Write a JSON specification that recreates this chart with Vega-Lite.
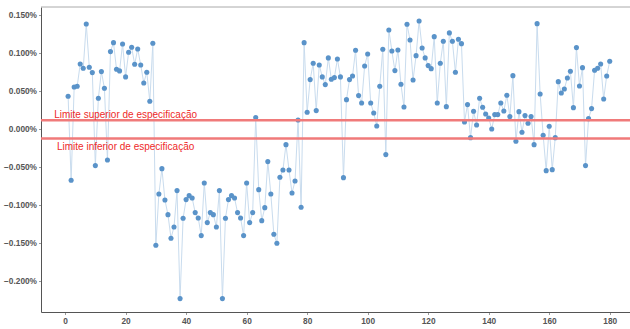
{
  "$schema": "https://vega.github.io/schema/vega-lite/v6.json",
  "width": 589,
  "height": 305,
  "autosize": {"type": "none"},
  "padding": {"left": 41, "top": 7, "right": 0, "bottom": 17},
  "background": "white",
  "config": {
    "view": {"stroke": null},
    "axis": {"grid": false, "labelFont": "Liberation Sans", "labelFontSize": 8.3, "labelFontWeight": "bold", "labelColor": "#555555", "domainColor": "#555555", "tickColor": "#999999", "tickSize": 2.5, "labelPadding": 2, "title": null}
  },
  "datasets": {
    "series": [
      {"i":1,"v":0.000434},{"i":2,"v":-0.000671},{"i":3,"v":0.000557},{"i":4,"v":0.000566},{"i":5,"v":0.000860},
      {"i":6,"v":0.000803},{"i":7,"v":0.001386},{"i":8,"v":0.000816},{"i":9,"v":0.000746},{"i":10,"v":-0.000478},
      {"i":11,"v":0.000408},{"i":12,"v":0.000759},{"i":13,"v":0.000539},{"i":14,"v":-0.000404},{"i":15,"v":0.001022},
      {"i":16,"v":0.001140},{"i":17,"v":0.000789},{"i":18,"v":0.000768},{"i":19,"v":0.001123},{"i":20,"v":0.000689},
      {"i":21,"v":0.001013},{"i":22,"v":0.001079},{"i":23,"v":0.000855},{"i":24,"v":0.001057},{"i":25,"v":0.000846},
      {"i":26,"v":0.000610},{"i":27,"v":0.000750},{"i":28,"v":0.000368},{"i":29,"v":0.001132},{"i":30,"v":-0.001526},
      {"i":31,"v":-0.000851},{"i":32,"v":-0.000518},{"i":33,"v":-0.000930},{"i":34,"v":-0.001123},{"i":35,"v":-0.001434},
      {"i":36,"v":-0.001285},{"i":37,"v":-0.000807},{"i":38,"v":-0.002228},{"i":39,"v":-0.001171},{"i":40,"v":-0.000925},
      {"i":41,"v":-0.000873},{"i":42,"v":-0.000904},{"i":43,"v":-0.001096},{"i":44,"v":-0.001167},{"i":45,"v":-0.001399},
      {"i":46,"v":-0.000706},{"i":47,"v":-0.001228},{"i":48,"v":-0.001096},{"i":49,"v":-0.001123},{"i":50,"v":-0.001285},
      {"i":51,"v":-0.000807},{"i":52,"v":-0.002228},{"i":53,"v":-0.001171},{"i":54,"v":-0.000925},{"i":55,"v":-0.000873},
      {"i":56,"v":-0.000904},{"i":57,"v":-0.001096},{"i":58,"v":-0.001167},{"i":59,"v":-0.001399},{"i":60,"v":-0.000706},
      {"i":61,"v":-0.001228},{"i":62,"v":-0.001096},{"i":63,"v":0.000154},{"i":64,"v":-0.000794},{"i":65,"v":-0.001202},
      {"i":66,"v":-0.001031},{"i":67,"v":-0.000425},{"i":68,"v":-0.000851},{"i":69,"v":-0.001382},{"i":70,"v":-0.001500},
      {"i":71,"v":-0.000632},{"i":72,"v":-0.000535},{"i":73,"v":-0.000202},{"i":74,"v":-0.000535},{"i":75,"v":-0.000838},
      {"i":76,"v":-0.000680},{"i":77,"v":0.000123},{"i":78,"v":-0.001026},{"i":79,"v":0.001140},{"i":80,"v":0.000224},
      {"i":81,"v":0.000654},{"i":82,"v":0.000868},{"i":83,"v":0.000246},{"i":84,"v":0.000846},{"i":85,"v":0.000689},
      {"i":86,"v":0.000588},{"i":87,"v":0.000939},{"i":88,"v":0.000658},{"i":89,"v":0.000680},{"i":90,"v":0.000925},
      {"i":91,"v":0.000689},{"i":92,"v":-0.000636},{"i":93,"v":0.000390},{"i":94,"v":0.000654},{"i":95,"v":0.000702},
      {"i":96,"v":0.001039},{"i":97,"v":0.000443},{"i":98,"v":0.000346},{"i":99,"v":0.000833},{"i":100,"v":0.000991},
      {"i":101,"v":0.000346},{"i":102,"v":0.000215},{"i":103,"v":0.000044},{"i":104,"v":0.000566},{"i":105,"v":0.001053},
      {"i":106,"v":-0.000333},{"i":107,"v":0.001307},{"i":108,"v":0.001031},{"i":109,"v":0.000772},{"i":110,"v":0.001044},
      {"i":111,"v":0.000592},{"i":112,"v":0.000294},{"i":113,"v":0.001382},{"i":114,"v":0.001175},{"i":115,"v":0.000649},
      {"i":116,"v":0.000969},{"i":117,"v":0.001425},{"i":118,"v":0.001070},{"i":119,"v":0.000939},{"i":120,"v":0.000838},
      {"i":121,"v":0.000798},{"i":122,"v":0.001219},{"i":123,"v":0.000346},{"i":124,"v":0.000868},{"i":125,"v":0.001158},
      {"i":126,"v":0.000298},{"i":127,"v":0.001268},{"i":128,"v":0.001158},{"i":129,"v":0.000750},{"i":130,"v":0.001184},
      {"i":131,"v":0.001127},{"i":132,"v":0.000096},{"i":133,"v":0.000325},{"i":134,"v":-0.000110},{"i":135,"v":0.000237},
      {"i":136,"v":0.000057},{"i":137,"v":0.000408},{"i":138,"v":0.000289},{"i":139,"v":0.000202},{"i":140,"v":0.000149},
      {"i":141,"v":0.000004},{"i":142,"v":0.000193},{"i":143,"v":0.000193},{"i":144,"v":0.000346},{"i":145,"v":0.000241},
      {"i":146,"v":0.000447},{"i":147,"v":0.000167},{"i":148,"v":0.000706},{"i":149,"v":-0.000158},{"i":150,"v":0.000232},
      {"i":151,"v":-0.000039},{"i":152,"v":0.000180},{"i":153,"v":0.000079},{"i":154,"v":0.000167},{"i":155,"v":-0.000202},
      {"i":156,"v":0.001390},{"i":157,"v":0.000465},{"i":158,"v":-0.000079},{"i":159,"v":-0.000544},{"i":160,"v":0.000039},
      {"i":161,"v":-0.000531},{"i":162,"v":-0.000110},{"i":163,"v":0.000627},{"i":164,"v":0.000478},{"i":165,"v":0.000531},
      {"i":166,"v":0.000675},{"i":167,"v":0.000763},{"i":168,"v":0.000285},{"i":169,"v":0.001075},{"i":170,"v":0.000570},
      {"i":171,"v":0.000811},{"i":172,"v":-0.000478},{"i":173,"v":0.000140},{"i":174,"v":0.000272},{"i":175,"v":0.000776},
      {"i":176,"v":0.000803},{"i":177,"v":0.000860},{"i":178,"v":0.000399},{"i":179,"v":0.000702},{"i":180,"v":0.000895}
    ],
    "limits": [
      {"lim": 0.00012, "label": "Limite superior de especificação", "lx": 20, "pos": "upper"},
      {"lim": -0.00012, "label": "Limite inferior de especificação", "lx": 20, "pos": "lower"}
    ]
  },
  "layer": [
    {
      "data": {"name": "series"},
      "mark": {"type": "line", "color": "#c9dcee", "strokeWidth": 1},
      "encoding": {
        "x": {"field": "i", "type": "quantitative", "scale": {"domain": [-7.96, 186.7], "nice": false, "zero": false}, "axis": {"values": [0, 20, 40, 60, 80, 100, 120, 140, 160, 180], "format": "d"}},
        "y": {"field": "v", "type": "quantitative", "scale": {"domain": [-0.002404, 0.001609], "nice": false, "zero": false}, "axis": {"values": [-0.002, -0.0015, -0.001, -0.0005, 0, 0.0005, 0.001, 0.0015], "format": ".3%"}}
      }
    },
    {
      "data": {"name": "series"},
      "mark": {"type": "circle", "color": "#5a93c9", "opacity": 1, "size": 26},
      "encoding": {
        "x": {"field": "i", "type": "quantitative"},
        "y": {"field": "v", "type": "quantitative"}
      }
    },
    {
      "data": {"name": "limits"},
      "mark": {"type": "rule", "color": "#f07a7a", "strokeWidth": 2.5},
      "encoding": {"y": {"field": "lim", "type": "quantitative"}}
    },
    {
      "data": {"name": "limits"},
      "transform": [{"filter": "datum.pos == 'upper'"}],
      "mark": {"type": "text", "color": "#ee2a2a", "font": "Liberation Sans", "fontSize": 10, "dy": -2, "baseline": "alphabetic", "align": "center"},
      "encoding": {"x": {"field": "lx", "type": "quantitative"}, "y": {"field": "lim", "type": "quantitative"}, "text": {"field": "label"}}
    },
    {
      "data": {"name": "limits"},
      "transform": [{"filter": "datum.pos == 'lower'"}],
      "mark": {"type": "text", "color": "#ee2a2a", "font": "Liberation Sans", "fontSize": 10, "dy": 12, "baseline": "alphabetic", "align": "center"},
      "encoding": {"x": {"field": "lx", "type": "quantitative"}, "y": {"field": "lim", "type": "quantitative"}, "text": {"field": "label"}}
    },
    {
      "data": {"values": [{}]},
      "mark": {"type": "rule", "color": "#aaaaaa", "strokeWidth": 1},
      "encoding": {"y": {"datum": 0.001609, "type": "quantitative"}}
    }
  ]
}
